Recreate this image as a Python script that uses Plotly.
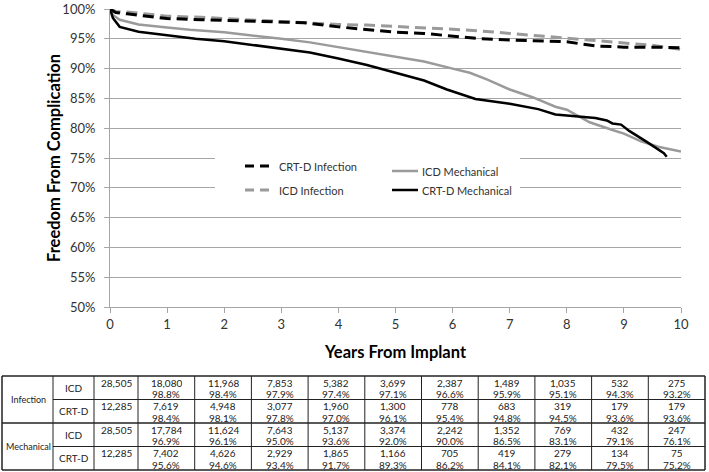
import plotly.graph_objects as go

# ---------------- data ----------------
years = list(range(0, 11))
y_ticks = list(range(50, 101, 5))
y_tick_labels = [f"{v}%" for v in y_ticks]

icd_mech_t = [0, 0.05, 0.17, 0.5, 1, 1.4, 2, 2.5, 3, 3.5, 4, 4.5, 5, 5.5, 6, 6.3, 6.6, 7, 7.4, 7.8, 8, 8.4, 8.8, 9, 9.3, 9.6, 10]
icd_mech_v = [100, 99.0, 98.2, 97.4, 96.9, 96.5, 96.1, 95.6, 95.0, 94.4, 93.6, 92.9, 92.0, 91.2, 90.0, 89.3, 88.2, 86.5, 85.2, 83.6, 83.1, 81.0, 79.7, 79.1, 77.8, 76.9, 76.1]

crt_mech_t = [0, 0.05, 0.17, 0.5, 1, 1.5, 2, 2.5, 3, 3.5, 4, 4.5, 5, 5.5, 5.9, 6, 6.4, 7, 7.5, 7.8, 8, 8.5, 8.7, 8.8, 8.95, 9.1, 9.4, 9.6, 9.7, 9.75]
crt_mech_v = [100, 98.5, 97.0, 96.2, 95.6, 95.0, 94.6, 94.0, 93.4, 92.7, 91.7, 90.6, 89.3, 88.0, 86.5, 86.2, 84.9, 84.1, 83.2, 82.3, 82.1, 81.7, 81.3, 80.8, 80.6, 79.5, 77.7, 76.5, 75.8, 75.2]

crt_inf_t = [0, 0.1, 0.3, 1, 1.6, 2, 2.5, 3, 3.4, 4, 4.4, 5, 5.5, 6, 6.5, 7, 7.5, 8, 8.5, 9, 9.5, 10]
crt_inf_v = [100, 99.4, 99.2, 98.4, 98.2, 98.1, 98.0, 97.8, 97.7, 97.0, 96.6, 96.1, 95.9, 95.4, 95.0, 94.8, 94.7, 94.5, 93.8, 93.6, 93.6, 93.5]

icd_inf_t = [0, 0.1, 0.3, 1, 1.6, 2, 2.5, 3, 3.5, 4, 4.5, 5, 5.5, 6, 6.5, 7, 7.5, 8, 8.5, 9, 9.5, 10]
icd_inf_v = [100, 99.6, 99.5, 98.8, 98.6, 98.4, 98.2, 97.9, 97.7, 97.4, 97.3, 97.1, 96.9, 96.6, 96.3, 95.9, 95.5, 95.1, 94.7, 94.3, 93.9, 93.2]

# at-risk table
inf_icd_n = [28505, 18080, 11968, 7853, 5382, 3699, 2387, 1489, 1035, 532, 275]
inf_icd_p = [None, 98.8, 98.4, 97.9, 97.4, 97.1, 96.6, 95.9, 95.1, 94.3, 93.2]
inf_crt_n = [12285, 7619, 4948, 3077, 1960, 1300, 778, 683, 319, 179, 179]
inf_crt_p = [None, 98.4, 98.1, 97.8, 97.0, 96.1, 95.4, 94.8, 94.5, 93.6, 93.6]
mech_icd_n = [28505, 17784, 11624, 7643, 5137, 3374, 2242, 1352, 769, 432, 247]
mech_icd_p = [None, 96.9, 96.1, 95.0, 93.6, 92.0, 90.0, 86.5, 83.1, 79.1, 76.1]
mech_crt_n = [12285, 7402, 4626, 2929, 1865, 1166, 705, 419, 279, 134, 75]
mech_crt_p = [None, 95.6, 94.6, 93.4, 91.7, 89.3, 86.2, 84.1, 82.1, 79.5, 75.2]

groups = ["Infection", "Mechanical"]
devices = ["ICD", "CRT-D"]
legend_names = ["CRT-D Infection", "ICD Infection", "ICD Mechanical", "CRT-D Mechanical"]

# ---------------- styling ----------------
FONT = "Lato, 'Open Sans', sans-serif"
BLACK = "#000000"
GRAY = "#9a9a9a"
GRID = "#a6a6a6"
TXT = "#333333"

W, H = 709, 472
L, R, T, B = 110, 28, 9, 165
PW, PH = W - L - R, H - T - B


def px(x):
    return (x - L) / PW


def py(y):
    return (H - B - y) / PH


fig = go.Figure()
fig.add_trace(go.Scatter(x=icd_mech_t, y=icd_mech_v, mode="lines", name=legend_names[2],
                         line=dict(color=GRAY, width=2.5), showlegend=False))
fig.add_trace(go.Scatter(x=crt_mech_t, y=crt_mech_v, mode="lines", name=legend_names[3],
                         line=dict(color=BLACK, width=2.5), showlegend=False))
fig.add_trace(go.Scatter(x=icd_inf_t, y=icd_inf_v, mode="lines", name=legend_names[1],
                         line=dict(color=GRAY, width=3, dash="11px,6px"), showlegend=False))
fig.add_trace(go.Scatter(x=crt_inf_t, y=crt_inf_v, mode="lines", name=legend_names[0],
                         line=dict(color=BLACK, width=3, dash="11px,6px"), showlegend=False))

shapes = []
annotations = []

# legend (manual)
shapes.append(dict(type="rect", xref="paper", yref="paper", x0=px(215), x1=px(520), y0=py(200), y1=py(146),
                   fillcolor="white", line=dict(width=0), layer="above"))
leg = [
    (legend_names[0], 245, 166, BLACK, "dash"),
    (legend_names[1], 245, 190, GRAY, "dash"),
    (legend_names[2], 392, 171, GRAY, "solid"),
    (legend_names[3], 392, 190, BLACK, "solid"),
]
for name, x0, y0, col, style in leg:
    if style == "dash":
        shapes.append(dict(type="line", xref="paper", yref="paper", x0=px(x0), x1=px(x0 + 26), y0=py(y0), y1=py(y0),
                           line=dict(color=col, width=3, dash="9px,6px"), layer="above"))
        tx = x0 + 32
    else:
        shapes.append(dict(type="line", xref="paper", yref="paper", x0=px(x0), x1=px(x0 + 26), y0=py(y0), y1=py(y0),
                           line=dict(color=col, width=2.5), layer="above"))
        tx = x0 + 28
    annotations.append(dict(text=name, xref="paper", yref="paper", x=px(tx), y=py(y0), xanchor="left",
                            yanchor="middle", showarrow=False, font=dict(family=FONT, size=11, color=TXT)))

# axis titles
annotations.append(dict(text="<b>Freedom From Complication</b>", xref="paper", yref="paper", x=px(54), y=py(158),
                        textangle=-90, showarrow=False, xanchor="center", yanchor="middle",
                        font=dict(family=FONT, size=16.5, color=BLACK)))
annotations.append(dict(text="<b>Years From Implant</b>", xref="paper", yref="paper", x=px(395), y=py(352),
                        showarrow=False, xanchor="center", yanchor="middle",
                        font=dict(family=FONT, size=16.5, color=BLACK)))

# ---------------- table ----------------
col_edges = [2, 53, 94, 138] + [138 + 56.7 * k for k in range(1, 11)]
row_edges = [376, 399.5, 423, 446.5, 470]
TL = "#222222"


def hline(y, x0, x1, w=1):
    shapes.append(dict(type="line", xref="paper", yref="paper", x0=px(x0), x1=px(x1), y0=py(y), y1=py(y),
                       line=dict(color=TL, width=w), layer="above"))


def vline(x, y0, y1, w=1):
    shapes.append(dict(type="line", xref="paper", yref="paper", x0=px(x), x1=px(x), y0=py(y0), y1=py(y1),
                       line=dict(color=TL, width=w), layer="above"))


right = col_edges[-1]
hline(row_edges[0], col_edges[0], right, 1.5)
hline(row_edges[1], col_edges[1], right)
hline(row_edges[2], col_edges[0], right, 1.5)
hline(row_edges[3], col_edges[1], right)
hline(row_edges[4], col_edges[0], right, 1.5)
for i, x in enumerate(col_edges):
    vline(x, row_edges[0], row_edges[4], 1.5 if i in (0, len(col_edges) - 1) else 1)

TF = dict(family=FONT, size=10, color="#222222")
GF = dict(family=FONT, size=9, color="#222222")
rows = [(inf_icd_n, inf_icd_p), (inf_crt_n, inf_crt_p), (mech_icd_n, mech_icd_p), (mech_crt_n, mech_crt_p)]
for gi, g in enumerate(groups):
    yc = (row_edges[2 * gi] + row_edges[2 * gi + 2]) / 2
    annotations.append(dict(text=g, xref="paper", yref="paper", x=px((col_edges[0] + col_edges[1]) / 2 + 0.5),
                            y=py(yc), showarrow=False, xanchor="center", yanchor="middle", font=GF))
    for di, d in enumerate(devices):
        r = 2 * gi + di
        yc = (row_edges[r] + row_edges[r + 1]) / 2
        annotations.append(dict(text=d, xref="paper", yref="paper", x=px((col_edges[1] + col_edges[2]) / 2),
                                y=py(yc), showarrow=False, xanchor="center", yanchor="middle", font=TF))
for r, (ns, ps) in enumerate(rows):
    top = row_edges[r]
    for c in range(11):
        xc = (col_edges[2 + c] + col_edges[3 + c]) / 2
        annotations.append(dict(text=f"{ns[c]:,}", xref="paper", yref="paper", x=px(xc), y=py(top + 6.3),
                                showarrow=False, xanchor="center", yanchor="middle", font=TF,
                                borderpad=0, height=11))
        if ps[c] is not None:
            annotations.append(dict(text=f"{ps[c]:.1f}%", xref="paper", yref="paper", x=px(xc), y=py(top + 17.8),
                                    showarrow=False, xanchor="center", yanchor="middle", font=TF,
                                    borderpad=0, height=11))

fig.update_layout(
    width=W, height=H, autosize=False,
    margin=dict(l=L, r=R, t=T, b=B, pad=0, autoexpand=False),
    paper_bgcolor="white", plot_bgcolor="white",
    shapes=shapes, annotations=annotations,
    showlegend=False,
    xaxis=dict(range=[0, 10], tickvals=years, showgrid=False, zeroline=False, automargin=False,
               showline=True, linecolor=GRID, linewidth=1, ticks="outside", ticklen=5, tickcolor=GRID,
               tickfont=dict(family=FONT, size=13, color=TXT)),
    yaxis=dict(range=[50, 100], tickvals=y_ticks, ticktext=y_tick_labels, showgrid=True, automargin=False,
               gridcolor=GRID, gridwidth=1, zeroline=False, showline=True, linecolor=GRID, linewidth=1,
               ticks="outside", ticklen=5, tickcolor=GRID, ticklabelstandoff=6,
               tickfont=dict(family=FONT, size=13, color=TXT)),
)

fig.write_html("out.html", config={"displayModeBar": False},
               post_script="document.body.style.margin='0';")
